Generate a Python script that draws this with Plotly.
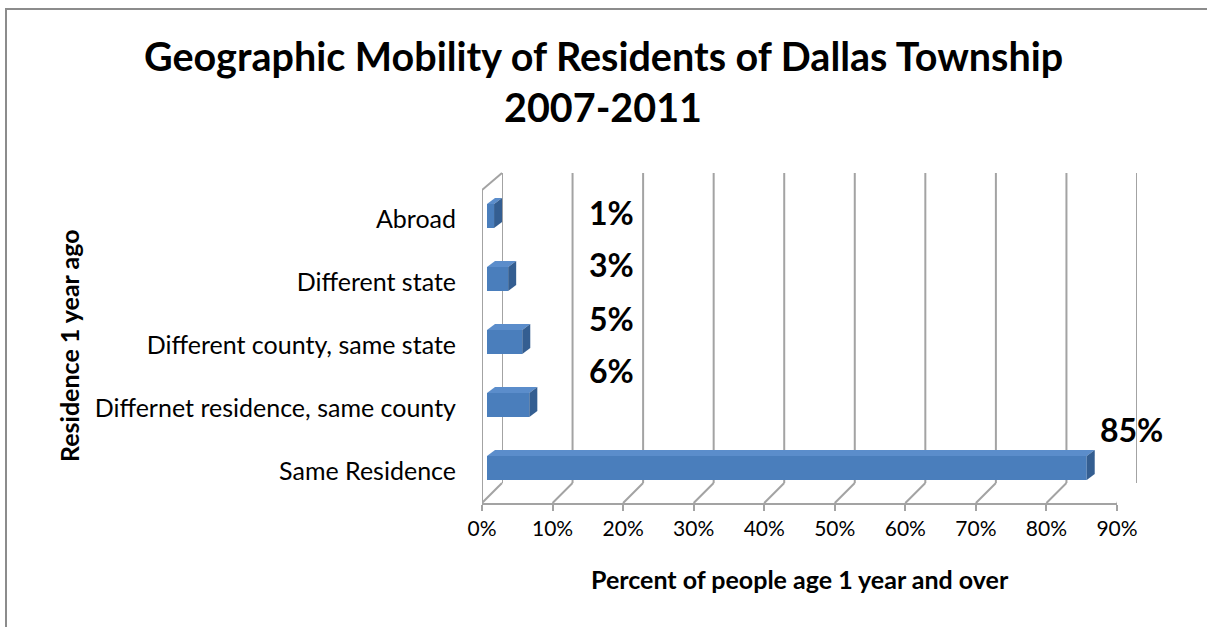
import plotly.graph_objects as go

# ---------------- data ----------------
CATEGORIES = ["Same Residence", "Differnet residence, same county",
              "Different county, same state", "Different state", "Abroad"]
VALUES = [85, 6, 5, 3, 1]                      # percent
TICK_VALUES = [0, 10, 20, 30, 40, 50, 60, 70, 80, 90]
TICK_LABELS = ["0%", "10%", "20%", "30%", "40%", "50%", "60%", "70%", "80%", "90%"]
TITLE_LINES = ["Geographic Mobility of Residents of Dallas Township", "2007-2011"]
X_TITLE = "Percent of people age 1 year and over"
Y_TITLE = "Residence 1 year ago"

# ---------------- layout constants (pixels in the screenshot) ----------------
W, H = 1207, 627
FONT = "Lato"
XMAX = 90
AXIS_LEN = 635                    # px for 0..90
FRONT_X0, FRONT_BOT, FRONT_TOP = 482, 503, 188
BACK_DX, BACK_TOP, BACK_BOT = 20, 173, 483
BAR_X0, BAR_BOT, BAR_TOP = 487, 499.5, 184.5
BAR_WIDTH = 0.38
BAR_DX_PX, BAR_DY_PX = 8, 6
LABEL_PX = [(1165, 430), (636, 370), (636, 318), (636, 264), (636, 212)]
TITLE_PX = [(603, 56), (603, 106)]
GRID = "#A3A3A3"
FRONT_C, TOP_C, SIDE_C = "#4A7EBC", "#5B8DCB", "#345E91"


def fx(x):
    return x / W


def fy(y):
    return 1 - y / H


xscale = AXIS_LEN / XMAX           # px per data unit
cats_idx = list(range(len(CATEGORIES)))

fig = go.Figure()

# bars (front faces)
fig.add_trace(go.Bar(
    x=VALUES, y=cats_idx, orientation="h", width=BAR_WIDTH,
    marker=dict(color=FRONT_C, line=dict(width=0)),
    xaxis="x4", yaxis="y", hoverinfo="x+y", showlegend=False))
# invisible traces so every axis pair is drawn
fig.add_trace(go.Scatter(x=[None], y=[None], xaxis="x", yaxis="y3", showlegend=False))
fig.add_trace(go.Scatter(x=[None], y=[None], xaxis="x2", yaxis="y2", showlegend=False))

shapes = []
# back wall grid lines and floor diagonals
dx_back = BACK_DX / xscale
for v in TICK_VALUES:
    shapes.append(dict(type="line", xref="x2", yref="paper", x0=v, x1=v,
                       y0=fy(BACK_BOT), y1=fy(BACK_TOP), line=dict(color=GRID, width=2), layer="below"))
    shapes.append(dict(type="line", xref="x", yref="paper", x0=v, x1=v + dx_back,
                       y0=fy(FRONT_BOT), y1=fy(BACK_BOT), line=dict(color=GRID, width=2), layer="below"))
# left wall
shapes.append(dict(type="line", xref="x", yref="paper", x0=0, x1=0,
                   y0=fy(FRONT_BOT), y1=fy(FRONT_TOP + 2), line=dict(color=GRID, width=2), layer="below"))
shapes.append(dict(type="line", xref="x", yref="paper", x0=0, x1=dx_back,
                   y0=fy(FRONT_TOP + 2), y1=fy(BACK_TOP), line=dict(color=GRID, width=2), layer="below"))

# 3D faces of the bars
bdx = BAR_DX_PX / xscale
bdy = BAR_DY_PX / ((BAR_BOT - BAR_TOP) / len(CATEGORIES))
h = BAR_WIDTH / 2
for i, v in zip(cats_idx, VALUES):
    top = f"M 0,{i + h} L {v},{i + h} L {v + bdx},{i + h + bdy} L {bdx},{i + h + bdy} Z"
    side = f"M {v},{i - h} L {v + bdx},{i - h + bdy} L {v + bdx},{i + h + bdy} L {v},{i + h} Z"
    shapes.append(dict(type="path", xref="x4", yref="y", path=top,
                       fillcolor=TOP_C, line=dict(width=0), layer="above"))
    shapes.append(dict(type="path", xref="x4", yref="y", path=side,
                       fillcolor=SIDE_C, line=dict(width=0), layer="above"))

# chart border
shapes.append(dict(type="rect", xref="paper", yref="paper", x0=fx(6), x1=1.02,
                   y0=-0.03, y1=fy(9), line=dict(color="#8C8C8C", width=2)))

annotations = []
for v, (lx, ly) in zip(VALUES, LABEL_PX):
    annotations.append(dict(text=f"{v}%", xref="paper", yref="paper", x=fx(lx), y=fy(ly),
                            xanchor="right", yanchor="middle", showarrow=False,
                            font=dict(family=FONT, size=32, color="black", weight="bold")))
for line, (tx, ty) in zip(TITLE_LINES, TITLE_PX):
    annotations.append(dict(text=f"<b>{line}</b>", xref="paper", yref="paper", x=fx(tx), y=fy(ty),
                            xanchor="center", yanchor="middle", showarrow=False,
                            font=dict(family=FONT, size=39.5, color="black")))
annotations.append(dict(text=f"<b>{X_TITLE}</b>", xref="paper", yref="paper", x=fx(800), y=fy(579),
                        xanchor="center", yanchor="middle", showarrow=False,
                        font=dict(family=FONT, size=25, color="black")))
annotations.append(dict(text=f"<b>{Y_TITLE}</b>", xref="paper", yref="paper", x=fx(69), y=fy(346),
                        xanchor="center", yanchor="middle", showarrow=False, textangle=-90,
                        font=dict(family=FONT, size=25, color="black")))

fig.update_layout(
    template="none",
    width=W, height=H, margin=dict(l=0, r=0, t=0, b=0, pad=0), autosize=False,
    paper_bgcolor="white", plot_bgcolor="rgba(0,0,0,0)",
    font=dict(family=FONT, color="black"),
    showlegend=False,
    shapes=shapes, annotations=annotations,
    xaxis=dict(domain=[fx(FRONT_X0), fx(FRONT_X0 + AXIS_LEN)], range=[0, XMAX], anchor="y3",
               tickvals=TICK_VALUES, ticktext=TICK_LABELS, ticks="outside", ticklen=6,
               tickcolor=GRID, tickwidth=2, showline=True, linecolor=GRID, linewidth=2,
               showgrid=False, zeroline=False, automargin=False,
               tickfont=dict(size=21, family=FONT)),
    yaxis3=dict(domain=[fy(FRONT_BOT), fy(FRONT_TOP)], range=[-0.5, len(CATEGORIES) - 0.5],
                anchor="x", tickvals=cats_idx, ticktext=CATEGORIES, ticks="",
                showline=False, showgrid=False, zeroline=False, ticklabelstandoff=25,
                automargin=False, tickfont=dict(size=25, family=FONT)),
    xaxis2=dict(domain=[fx(FRONT_X0 + BACK_DX), fx(FRONT_X0 + BACK_DX + AXIS_LEN)], range=[0, XMAX],
                anchor="y2", visible=False, automargin=False),
    yaxis2=dict(domain=[fy(BACK_BOT), fy(BACK_TOP)], range=[0, 1], anchor="x2", visible=False,
                automargin=False),
    xaxis4=dict(domain=[fx(BAR_X0), fx(BAR_X0 + AXIS_LEN)], range=[0, XMAX], anchor="y",
                visible=False, automargin=False),
    yaxis=dict(domain=[fy(BAR_BOT), fy(BAR_TOP)], range=[-0.5, len(CATEGORIES) - 0.5],
               anchor="x4", visible=False, automargin=False),
)

# remove the browser's default page margin so the figure sits at the window origin
fig.write_html("out.html", config={"displayModeBar": False},
               post_script="document.body.style.margin='0';")
